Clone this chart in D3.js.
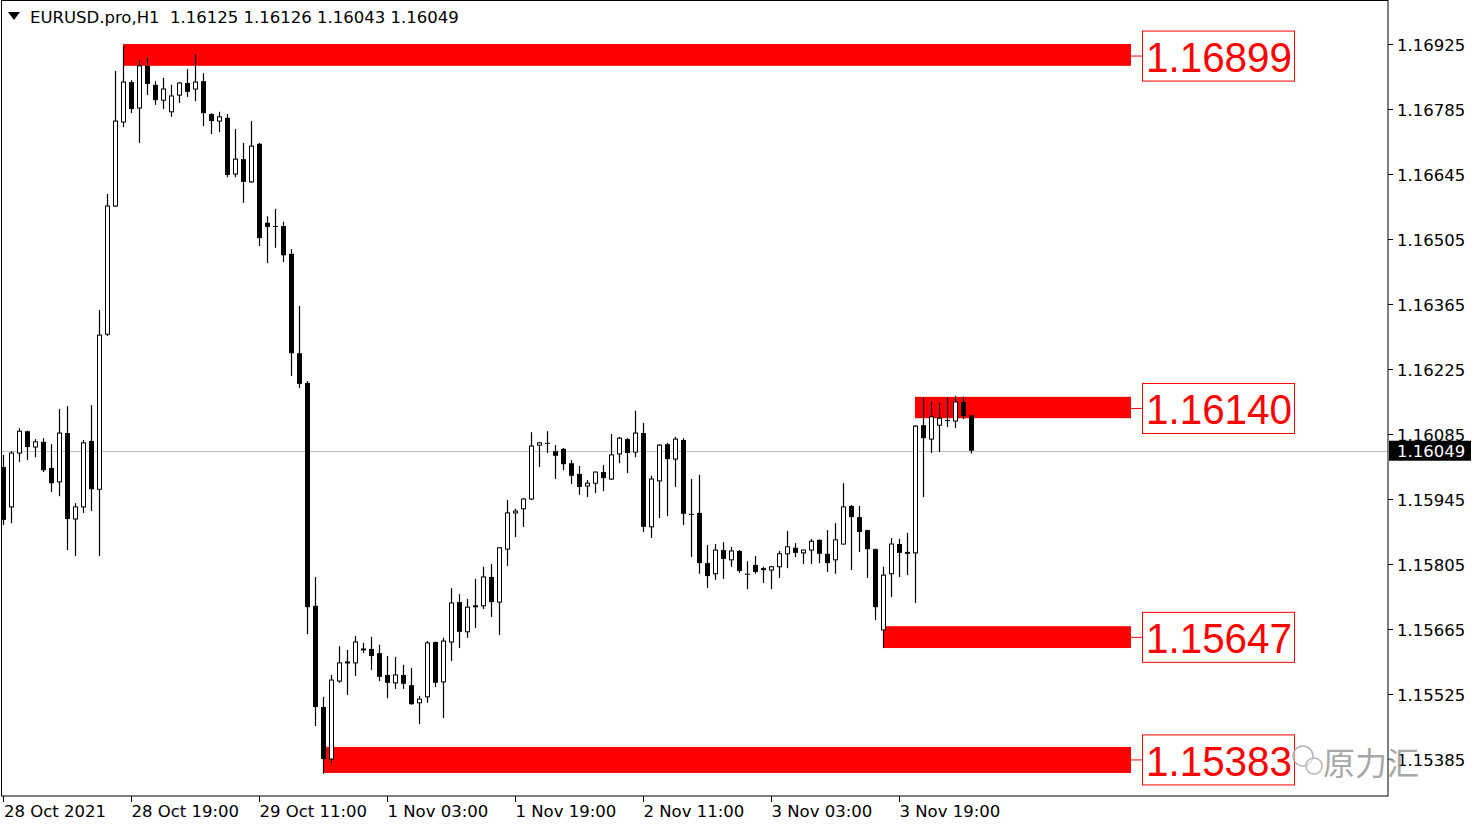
<!DOCTYPE html>
<html lang="en">
<head>
<meta charset="utf-8">
<script src="https://d3js.org/d3.v7.min.js"></script>
<style>
  html, body { margin: 0; padding: 0; background: #fff; }
  svg { display: block; font-family: "DejaVu Sans", Tahoma, sans-serif; }
</style>
</head>
<body>
<svg width="1481" height="827"></svg>
<script>

// hourly bars, EURUSD H1, oldest first
var open = [1.16014,1.15928,1.16044,1.16091,1.16057,1.16068,1.16012,1.15982,1.16087,1.15902,1.15928,1.16070,1.15966,1.16300,1.16576,1.16757,
  1.16843,1.16787,1.16878,1.16837,1.16804,1.16779,1.16815,1.16841,1.16828,1.16845,1.16774,1.16759,1.16766,1.16645,1.16677,1.16628,
  1.16710,1.16540,1.16533,1.16533,1.16473,1.16259,1.16195,1.15715,1.15497,1.15385,1.15553,1.15593,1.15592,1.15621,1.15622,1.15613,
  1.15566,1.15549,1.15566,1.15544,1.15506,1.15519,1.15637,1.15551,1.15637,1.15723,1.15659,1.15714,1.15715,1.15777,1.15723,1.15837,
  1.15915,1.15924,1.15945,1.16061,1.16066,1.16048,1.16053,1.16022,1.15999,1.15973,1.15979,1.16003,1.15988,1.16042,1.16074,1.16046,
  1.16087,1.15885,1.15984,1.16063,1.16031,1.16072,1.15913,1.15915,1.15807,1.15784,1.15835,1.15814,1.15833,1.15784,1.15803,1.15794,
  1.15792,1.15799,1.15827,1.15840,1.15829,1.15835,1.15857,1.15827,1.15814,1.15848,1.15930,1.15906,1.15878,1.15837,1.15663,1.15784,
  1.15848,1.15829,1.15829,1.16104,1.16074,1.16104,1.16115,1.16113,1.16154,1.16125];
var high = [1.16040,1.16048,1.16098,1.16092,1.16074,1.16076,1.16063,1.16139,1.16145,1.15936,1.16072,1.16147,1.16352,1.16602,1.16867,1.16920,
  1.16847,1.16891,1.16895,1.16845,1.16852,1.16837,1.16843,1.16871,1.16903,1.16862,1.16776,1.16779,1.16774,1.16742,1.16712,1.16759,
  1.16712,1.16554,1.16570,1.16542,1.16483,1.16361,1.16199,1.15777,1.15519,1.15566,1.15628,1.15620,1.15650,1.15635,1.15648,1.15631,
  1.15607,1.15605,1.15588,1.15581,1.15521,1.15639,1.15638,1.15646,1.15753,1.15740,1.15730,1.15773,1.15799,1.15805,1.15841,1.15943,
  1.15924,1.15947,1.16089,1.16068,1.16091,1.16061,1.16055,1.16029,1.16016,1.15986,1.16004,1.16018,1.16085,1.16079,1.16076,1.16135,
  1.16109,1.15995,1.16063,1.16066,1.16079,1.16076,1.15988,1.15997,1.15846,1.15848,1.15852,1.15842,1.15835,1.15811,1.15822,1.15799,
  1.15801,1.15833,1.15876,1.15850,1.15836,1.15859,1.15858,1.15878,1.15893,1.15979,1.15932,1.15930,1.15879,1.15838,1.15799,1.15861,
  1.15859,1.15872,1.16104,1.16163,1.16154,1.16152,1.16163,1.16167,1.16165,1.16126];
var low = [1.15889,1.15893,1.16025,1.16029,1.16035,1.16003,1.15960,1.15951,1.15835,1.15822,1.15915,1.15919,1.15822,1.16296,1.16574,1.16746,
  1.16776,1.16712,1.16815,1.16794,1.16785,1.16768,1.16798,1.16811,1.16802,1.16748,1.16731,1.16735,1.16638,1.16638,1.16583,1.16626,
  1.16490,1.16453,1.16486,1.16455,1.16210,1.16184,1.15654,1.15456,1.15353,1.15376,1.15549,1.15523,1.15564,1.15613,1.15577,1.15553,
  1.15516,1.15536,1.15536,1.15502,1.15460,1.15506,1.15540,1.15473,1.15596,1.15624,1.15646,1.15667,1.15708,1.15691,1.15652,1.15801,
  1.15863,1.15885,1.15943,1.16014,1.16044,1.15988,1.16007,1.15977,1.15954,1.15949,1.15958,1.15962,1.15986,1.16022,1.16001,1.16035,
  1.15874,1.15861,1.15904,1.15908,1.15971,1.15889,1.15820,1.15784,1.15753,1.15771,1.15773,1.15799,1.15786,1.15751,1.15784,1.15764,
  1.15751,1.15775,1.15796,1.15820,1.15805,1.15805,1.15807,1.15788,1.15784,1.15847,1.15792,1.15831,1.15775,1.15684,1.15624,1.15734,
  1.15777,1.15781,1.15721,1.15949,1.16044,1.16046,1.16100,1.16098,1.16117,1.16043];
var close = [1.15900,1.16044,1.16091,1.16057,1.16068,1.16007,1.15979,1.16087,1.15902,1.15928,1.16066,1.15966,1.16298,1.16576,1.16759,1.16843,
  1.16785,1.16878,1.16839,1.16804,1.16828,1.16813,1.16841,1.16822,1.16843,1.16776,1.16759,1.16768,1.16643,1.16677,1.16628,1.16705,
  1.16507,1.16531,1.16531,1.16470,1.16259,1.16193,1.15712,1.15497,1.15385,1.15555,1.15592,1.15594,1.15637,1.15622,1.15607,1.15562,
  1.15549,1.15566,1.15547,1.15503,1.15514,1.15635,1.15549,1.15639,1.15721,1.15659,1.15712,1.15715,1.15777,1.15723,1.15840,1.15915,
  1.15919,1.15945,1.16059,1.16066,1.16065,1.16038,1.16020,1.15995,1.15971,1.15979,1.16003,1.15990,1.16040,1.16076,1.16044,1.16087,
  1.15885,1.15988,1.16061,1.16031,1.16074,1.15913,1.15912,1.15807,1.15779,1.15835,1.15816,1.15833,1.15790,1.15783,1.15788,1.15795,
  1.15799,1.15827,1.15842,1.15829,1.15835,1.15854,1.15827,1.15807,1.15857,1.15928,1.15906,1.15874,1.15837,1.15712,1.15781,1.15848,
  1.15829,1.15830,1.16102,1.16076,1.16122,1.16119,1.16114,1.16154,1.16124,1.16049];

// time axis: bar index -> label
var timeIndex = [0, 16, 32, 48, 64, 80, 96, 112];
var timeLabels = ["28 Oct 2021", "28 Oct 19:00", "29 Oct 11:00", "1 Nov 03:00", "1 Nov 19:00", "2 Nov 11:00", "3 Nov 03:00", "3 Nov 19:00"];

// price axis ticks
var priceTicks = [1.16925, 1.16785, 1.16645, 1.16505, 1.16365, 1.16225, 1.16085, 1.15945, 1.15805, 1.15665, 1.15525, 1.15385];

// support / resistance zones
var zoneLabels = ["1.16899", "1.16140", "1.15647", "1.15383"];
var zoneLevel  = [1.16899, 1.16140, 1.15647, 1.15383];
var zoneTop    = [1.16925, 1.16165, 1.15671, 1.15411];
var zoneBottom = [1.16878, 1.16119, 1.15624, 1.15355];
var zoneStart  = [15, 114, 110, 40];

var title = "EURUSD.pro,H1  1.16125 1.16126 1.16043 1.16049";
var lastPrice = 1.16049;

var svg = d3.select("svg");
var plotRight = 1388, plotBottom = 796;

var x = d3.scaleLinear().domain([0, 121]).range([3, 971]);
var y = d3.scaleLinear().domain([1.15385, 1.16925]).range([759, 44]);

var bars = open.map(function(o, i) {
  return {i: i, o: o, h: high[i], l: low[i], c: close[i]};
});

// current price line
svg.append("line")
  .attr("x1", 1).attr("x2", plotRight)
  .attr("y1", Math.round(y(lastPrice)) + 0.5).attr("y2", Math.round(y(lastPrice)) + 0.5)
  .attr("stroke", "#c0c0c0").attr("stroke-width", 1);

// zones
var zones = svg.append("g");
zoneLevel.forEach(function(lv, k) {
  zones.append("rect")
    .attr("x", x(zoneStart[k]))
    .attr("y", y(zoneTop[k]))
    .attr("width", 1131 - x(zoneStart[k]))
    .attr("height", y(zoneBottom[k]) - y(zoneTop[k]))
    .attr("fill", "#ff0000");
});

// candles
var candle = svg.append("g").selectAll("g")
  .data(bars).enter().append("g");

candle.append("line")
  .attr("x1", function(d) { return x(d.i) + 0.5; })
  .attr("x2", function(d) { return x(d.i) + 0.5; })
  .attr("y1", function(d) { return y(d.h); })
  .attr("y2", function(d) { return y(d.l); })
  .attr("stroke", "#000").attr("stroke-width", 1.2);

candle.append("rect")
  .attr("x", function(d) { return d.c > d.o ? x(d.i) - 1.5 : x(d.i) - 2; })
  .attr("width", function(d) { return d.c > d.o ? 4 : 5; })
  .attr("y", function(d) { return y(Math.max(d.o, d.c)); })
  .attr("height", function(d) { return Math.max(1, Math.abs(y(d.o) - y(d.c))); })
  .attr("fill", function(d) { return d.c > d.o ? "#fff" : "#000"; })
  .attr("stroke", function(d) { return d.c > d.o ? "#000" : "none"; })
  .attr("stroke-width", 1);

// zone labels
zoneLevel.forEach(function(lv, k) {
  var cy = y(lv);
  zones.append("line")
    .attr("x1", 1131).attr("x2", 1143)
    .attr("y1", cy).attr("y2", cy)
    .attr("stroke", "#ff0000").attr("stroke-width", 1);
  svg.append("rect")
    .attr("x", 1142.5).attr("y", cy - 25)
    .attr("width", 152).attr("height", 50)
    .attr("fill", "#fff").attr("stroke", "#ff0000").attr("stroke-width", 1);
  svg.append("text")
    .attr("x", 1146).attr("y", cy + 16)
    .attr("font-family", "'Liberation Sans', Arial, sans-serif")
    .attr("font-size", 43)
    .attr("textLength", 146).attr("lengthAdjust", "spacingAndGlyphs")
    .attr("fill", "#ff0000")
    .text(zoneLabels[k]);
});

// frame
svg.append("rect")
  .attr("x", 1.5).attr("y", 0.5)
  .attr("width", plotRight - 1.5).attr("height", plotBottom - 0.5)
  .attr("fill", "none").attr("stroke", "#000").attr("stroke-width", 1);

// price axis
var pAxis = svg.append("g");
priceTicks.forEach(function(p) {
  var py = Math.round(y(p)) + 0.5;
  pAxis.append("line").attr("x1", plotRight).attr("x2", plotRight + 5)
    .attr("y1", py).attr("y2", py).attr("stroke", "#000");
  pAxis.append("text").attr("x", 1397).attr("y", py + 6)
    .attr("font-size", 16.5).attr("fill", "#000")
    .text(d3.format(".5f")(p));
});

// last price tag
var ly = y(lastPrice);
svg.append("rect").attr("x", 1389).attr("y", ly - 10).attr("width", 82).attr("height", 20).attr("fill", "#000");
svg.append("text").attr("x", 1397).attr("y", ly + 6).attr("font-size", 16.5).attr("fill", "#fff")
  .text(d3.format(".5f")(lastPrice));

// time axis
timeIndex.forEach(function(ti, k) {
  var tx = Math.round(x(ti)) + 0.5;
  svg.append("line").attr("x1", tx).attr("x2", tx)
    .attr("y1", plotBottom).attr("y2", plotBottom + 6).attr("stroke", "#000");
  svg.append("text").attr("x", k === 0 ? 4 : tx).attr("y", 817)
    .attr("font-size", 16.5).attr("fill", "#000")
    .text(timeLabels[k]);
});

// title
svg.append("path").attr("d", "M8,12 L20,12 L14,20 Z").attr("fill", "#000");
svg.append("text").attr("x", 30).attr("y", 23).attr("font-size", 16.5).attr("fill", "#000")
  .attr("xml:space", "preserve").style("white-space", "pre")
  .text(title);

// watermark
var wm = svg.append("g").attr("opacity", 0.85);
wm.append("circle").attr("cx", 1303).attr("cy", 756).attr("r", 10)
  .attr("fill", "rgba(255,255,255,0.6)").attr("stroke", "#aaa").attr("stroke-width", 1.5);
wm.append("circle").attr("cx", 1314).attr("cy", 766).attr("r", 8)
  .attr("fill", "rgba(255,255,255,0.6)").attr("stroke", "#aaa").attr("stroke-width", 1.5);
wm.append("text").attr("x", 1323).attr("y", 775)
  .attr("font-family", "'Noto Sans CJK SC', sans-serif").attr("font-size", 32)
  .attr("fill", "#999").text("原力汇");

</script>
</body>
</html>
